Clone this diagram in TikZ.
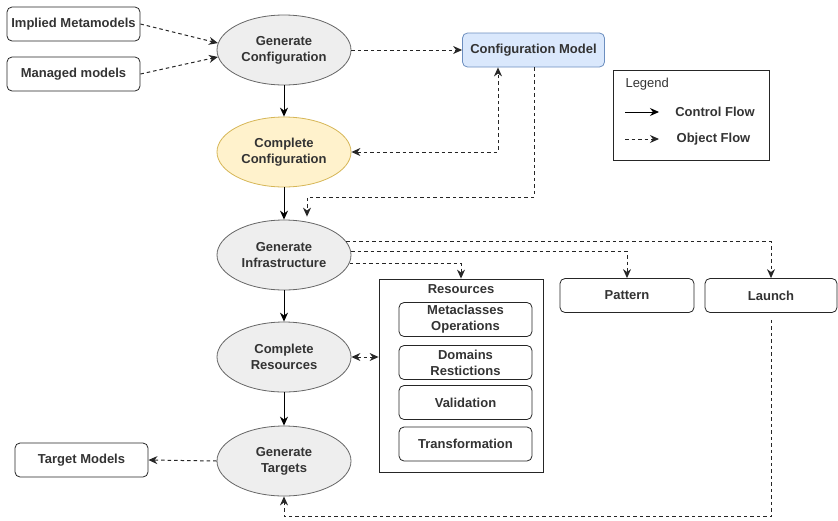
\documentclass[tikz,border=0pt]{standalone}
\usepackage{fontspec}
\setmainfont{Liberation Sans}
\usetikzlibrary{shapes.geometric,arrows.meta}
\definecolor{ellfill}{HTML}{EEEEEE}
\definecolor{ellline}{HTML}{666666}
\definecolor{yelfill}{HTML}{FFF2CC}
\definecolor{yelline}{HTML}{D6B656}
\definecolor{bluefill}{HTML}{DAE8FC}
\definecolor{blueline}{HTML}{6C8EBF}
\definecolor{txt}{HTML}{333333}
\tikzset{
  every node/.style={font=\fontsize{13}{16}\selectfont\bfseries, text=txt},
  act/.style={ellipse, draw=ellline, fill=ellfill, line width=0.8pt, minimum width=134pt, minimum height=70pt, inner sep=0pt, align=center},
  obj/.style={rectangle, rounded corners=5pt, draw=black!85, line width=0.8pt, minimum width=133pt, minimum height=34pt, inner sep=0pt, align=center},
  inner/.style={rectangle, rounded corners=5pt, draw=black!85, line width=0.8pt, minimum width=133pt, minimum height=34pt, inner sep=0pt, align=center},
  tip/.tip={Stealth[length=9pt,width=8pt]},
  ctrl/.style={-tip, line width=1pt, black},
  objflow/.style={-tip, line width=1pt, black!85, dash pattern=on 3.5pt off 3pt},
  objboth/.style={tip-tip, line width=1pt, black!85, dash pattern=on 3.5pt off 3pt},
}
\begin{document}
\begin{tikzpicture}[x=1pt,y=-1pt]
\useasboundingbox (0,0) rectangle (838,520);

% left objects
\node[obj] (im) at (73.5,24) {Implied Metamodels};
\node[obj] (mm) at (73.5,74) {Managed models};
\node[obj] (tm) at (81.5,460) {Target Models};

% activities
\node[act] (gc) at (284,50) {Generate\\Configuration};
\node[act, draw=yelline, fill=yelfill] (cc) at (284,152) {Complete\\Configuration};
\node[act] (gi) at (284,255) {Generate\\Infrastructure};
\node[act] (cr) at (284,357) {Complete\\Resources};
\node[act] (gt) at (284,461) {Generate\\Targets};

% configuration model
\node[obj, draw=blueline, fill=bluefill, minimum width=142pt] (cm) at (533.5,50) {Configuration Model};

% resources container
\node[rectangle, draw=black!85, line width=0.8pt, minimum width=164pt, minimum height=193pt, inner sep=0pt] (res) at (461,375.5) {};
\node (rest) at (461,289) {Resources};
\node[inner] (mo) at (465.5,319.5) {Metaclasses\\Operations};
\node[inner] (dr) at (465.5,362.5) {Domains\\Restictions};
\node[inner] (va) at (465.5,402.5) {Validation};
\node[inner] (tr) at (465.5,444) {Transformation};

% pattern / launch
\node[obj, minimum width=134pt] (pa) at (627,295.5) {Pattern};
\node[obj, minimum width=132pt] (la) at (771,295.5) {Launch};

% legend
\node[rectangle, draw=black!85, line width=1pt, minimum width=156pt, minimum height=90pt, inner sep=0pt] (lg) at (691,115) {};
\node[anchor=west, font=\fontsize{13}{16}\selectfont] (lgt) at (622,84) {Legend};
\coordinate (c1) at (625,112);
\coordinate (c2) at (659,112);
\coordinate (o1) at (625,139);
\coordinate (o2) at (659,139);
\node (lc) at (715,112) {Control Flow};
\node (lo) at (713.5,139) {Object Flow};
\draw[ctrl] (c1) -- (c2);
\draw[objflow] (o1) -- (o2);

% control flow
\draw[ctrl] (gc) -- (cc);
\draw[ctrl] (cc) -- (gi);
\draw[ctrl] (gi) -- (cr);
\draw[ctrl] (cr) -- (gt);

% object flow
\draw[objflow] (im.east) -- (gc.174);
\draw[objflow] (mm.east) -- (gc.186);
\draw[objflow] (gc.east) -- (cm.west);
\draw[objboth] (cc.east) -| ([xshift=-35.5pt]cm.south);
\draw[objflow] ([xshift=0.5pt]cm.south) -- ++(0,130) -| ([xshift=23pt,yshift=3pt]gi.north);
\draw[objflow] (gi.12) -| (la.north);
\draw[objflow] (gi.3) -| (pa.north);
\draw[objflow] (gi.353) -| (res.north);
\draw[objboth] (cr.east) -- (cr.east -| res.west);
\draw[objflow] (gt.west) -- (tm.east);
\draw[objflow] ([yshift=-7pt]la.south) -- ++(0,197) -| (gt.south);
\end{tikzpicture}
\end{document}
